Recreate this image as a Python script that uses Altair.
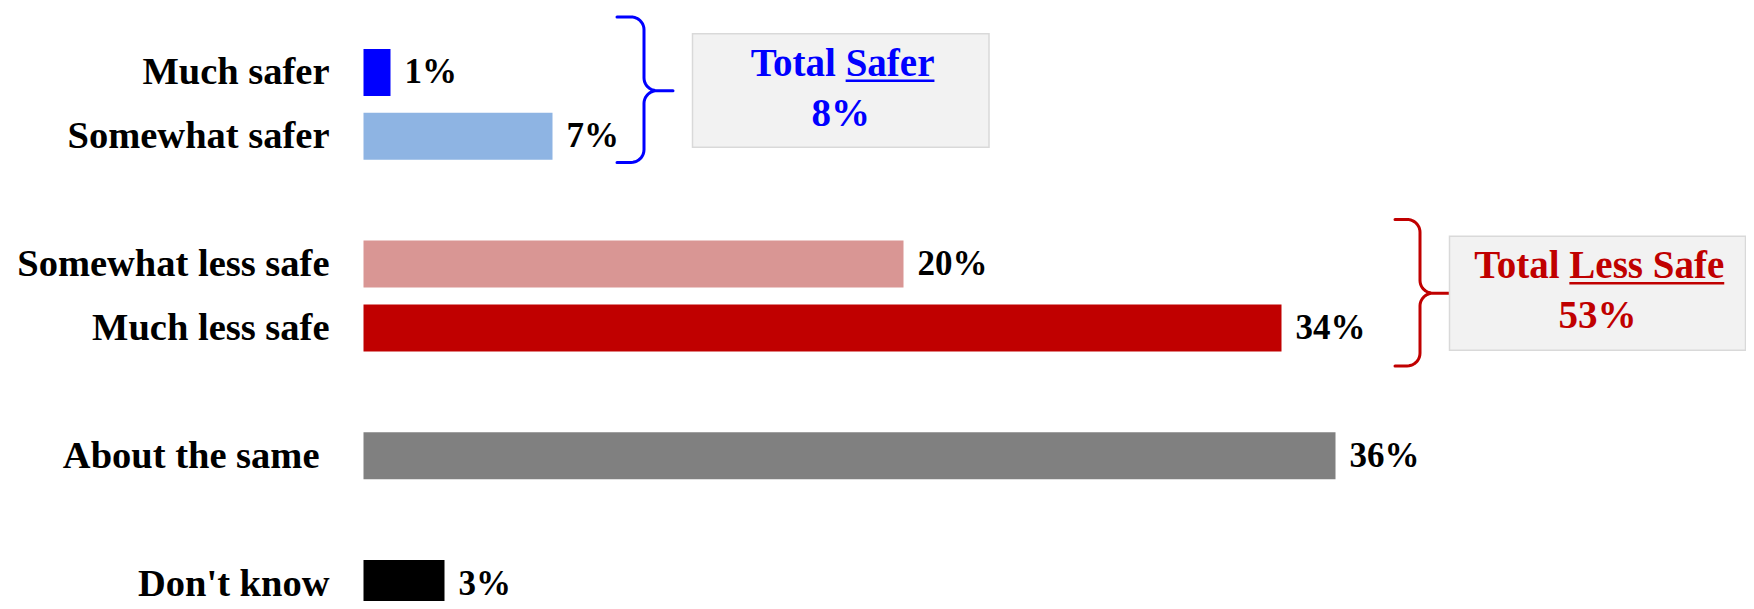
import altair as alt
import pandas as pd
import math

# ---------------- data ----------------
categories = ["Much safer", "Somewhat safer", "Somewhat less safe",
              "Much less safe", "About the same", "Don't know"]
values = [1, 7, 20, 34, 36, 3]
groups = ["safer", "safer", "less", "less", "same", "dk"]
bar_colors = ["#0000FF", "#8EB4E3", "#D99694", "#C00000", "#808080", "#000000"]
value_labels = ["1%", "7%", "20%", "34%", "36%", "3%"]

summary_lead = ["Total", "Total"]
summary_under = ["Safer", "Less Safe"]
summary_values = ["8%", "53%"]
summary_colors = ["#0000FF", "#C00000"]

# ---------------- layout ----------------
FONT = "Liberation Serif"
PX_X0, PX_PER_PCT = 363.5, 27.0     # page x of 0 %, px per percentage point
PY_Y0, PX_PER_SLOT = 68.4, 65.0     # page y of first row, px per row slot
W, H = 1738, 593                    # svg size (page margin 8)
LABEL_GAP = 34                      # px between category label and bar start
EXTRA_LABEL_GAP = {"About the same": 10}   # label typed with a trailing space


def vx(px):
    return (px - PX_X0) / PX_PER_PCT


def vy(py):
    return (py - PY_Y0) / PX_PER_SLOT


# slots: a blank row between groups
slots, s, prev = [], -1, None
for g in groups:
    s += 1 if (prev is None or g == prev) else 2
    slots.append(s)
    prev = g

df = pd.DataFrame({"category": categories, "value": values, "slot": slots,
                   "vlabel": value_labels,
                   "zero": [0] * len(values)})
df["label_x"] = [-EXTRA_LABEL_GAP.get(c, 0) / PX_PER_PCT for c in categories]

xs = alt.Scale(domain=[vx(8), vx(8 + W)], nice=False, zero=False)
ys = alt.Scale(domain=[vy(8), vy(8 + H)], nice=False, zero=False, reverse=True)
X = lambda f: alt.X(f, type="quantitative", scale=xs, axis=None)
Y = lambda f: alt.Y(f, type="quantitative", scale=ys, axis=None)

base = alt.Chart(df)
bars = base.mark_bar(orient="horizontal", size=47).encode(
    x=alt.X("value:Q", scale=xs, axis=None, stack=None),
    x2="zero:Q",
    y=Y("slot"),
    color=alt.Color("category:N", scale=alt.Scale(domain=categories, range=bar_colors), legend=None),
)
vals = base.mark_text(align="left", baseline="middle", dx=14, font=FONT,
                      fontWeight="bold", fontSize=35, color="black").encode(
    x=X("value"), y=Y("slot"), text="vlabel:N")
labs = base.mark_text(align="right", baseline="middle", dx=-LABEL_GAP, font=FONT,
                      fontWeight="bold", fontSize=38.5, color="black").encode(
    x=X("label_x"), y=Y("slot"), text="category:N")

layers = [bars, vals, labs]


# ---------------- braces ----------------
def brace_points(x_end, x_spine, x_tip, y_top, y_mid, y_bot, r=13, n=10):
    upper = [(x_end, y_top)]
    cx, cy = x_spine - r, y_top + r
    for i in range(n + 1):
        t = math.pi / 2 * i / n
        upper.append((cx + r * math.sin(t), cy - r * math.cos(t)))
    cx, cy = x_spine + r, y_mid - r
    for i in range(n + 1):
        t = math.pi / 2 * i / n
        upper.append((cx - r * math.cos(t), cy + r * math.sin(t)))
    upper.append((x_tip, y_mid))
    lower = [(x_tip, y_mid)]
    cx, cy = x_spine + r, y_mid + r
    for i in range(n + 1):
        t = math.pi / 2 * i / n
        lower.append((cx - r * math.sin(t), cy - r * math.cos(t)))
    cx, cy = x_spine - r, y_bot - r
    for i in range(n + 1):
        t = math.pi / 2 * i / n
        lower.append((cx + r * math.cos(t), cy + r * math.sin(t)))
    lower.append((x_end, y_bot))
    return upper + lower


brace_specs = [
    ("#0000FF", 617, 644, 673, 12, 87, 160),
    ("#C00000", 1395, 1420, 1450, 218, 293, 367),
]
for col, xe, xsp, xt, yt, ym, yb in brace_specs:
    pts = brace_points(xe, xsp, xt, yt, ym, yb)
    bdf = pd.DataFrame({"x": [vx(p[0]) for p in pts], "y": [vy(p[1]) for p in pts],
                        "o": list(range(len(pts)))})
    layers.append(alt.Chart(bdf).mark_line(color=col, strokeWidth=3, strokeCap="round",
                                           strokeJoin="round").encode(
        x=X("x"), y=Y("y"), order="o:Q"))

# ---------------- summary boxes ----------------
TB = {"T": 667, "o": 500, "t": 333, "a": 500, "l": 278, " ": 250, "S": 556,
      "f": 333, "e": 444, "r": 444, "L": 667, "s": 389}


def em(txt):
    return sum(TB.get(c, 500) for c in txt) / 1000.0


box_px = [(692.5, 989, 29, 144.5), (1449.5, 1745.5, 235, 351)]
FS = 39
for i, (x1, x2, y1, y2) in enumerate(box_px):
    col = summary_colors[i]
    bdf = pd.DataFrame({"x1": [vx(x1)], "x2": [vx(x2)], "y1": [vy(y1)], "y2": [vy(y2)],
                        "cx": [vx((x1 + x2) / 2)],
                        "lead": [summary_lead[i]], "under": [summary_under[i]],
                        "val": [summary_values[i]]})
    bc = alt.Chart(bdf)
    layers.append(bc.mark_rect(fill="#F2F2F2", stroke="#D9D9D9", strokeWidth=1.5).encode(
        x=X("x1"), x2="x2:Q", y=Y("y1"), y2="y2:Q"))
    lead_w = em(summary_lead[i]) * FS
    under_w = em(summary_under[i]) * FS
    sp = 0.25 * FS
    start = -(lead_w + sp + under_w) / 2
    lead_r = start + lead_w
    under_l = lead_r + sp
    layers.append(bc.mark_text(align="right", baseline="alphabetic", dx=lead_r, dy=42,
                               font=FONT, fontWeight="bold", fontSize=FS, color=col).encode(
        x=X("cx"), y=Y("y1"), text="lead:N"))
    layers.append(bc.mark_text(align="left", baseline="alphabetic", dx=under_l, dy=42,
                               font=FONT, fontWeight="bold", fontSize=FS, color=col).encode(
        x=X("cx"), y=Y("y1"), text="under:N"))
    layers.append(bc.mark_rule(color=col, strokeWidth=2.5, xOffset=under_l,
                               x2Offset=under_l + under_w, yOffset=47).encode(
        x=X("cx"), x2="cx:Q", y=Y("y1")))
    layers.append(bc.mark_text(align="center", baseline="alphabetic", dy=92,
                               font=FONT, fontWeight="bold", fontSize=FS, color=col).encode(
        x=X("cx"), y=Y("y1"), text="val:N"))

chart = alt.layer(*layers).properties(
    width=W, height=H, padding=0,
    autosize=alt.AutoSizeParams(type="none"),
).configure_view(stroke=None)

chart.save("out.html", embed_options={"renderer": "svg", "actions": False})
